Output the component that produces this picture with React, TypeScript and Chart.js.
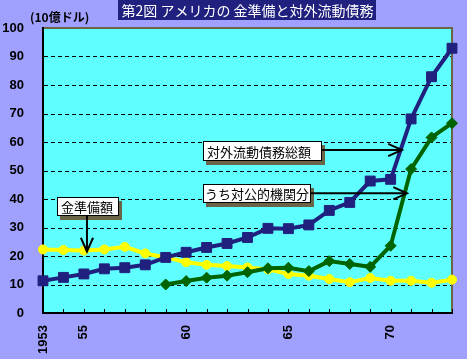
import React, { useEffect, useRef } from 'react';
import { Chart, registerables } from 'chart.js';

Chart.register(...registerables);

// ---- data ----
const years = ['1953', '1954', '1955', '1956', '1957', '1958', '1959', '1960', '1961', '1962', '1963', '1964', '1965', '1966', '1967', '1968', '1969', '1970', '1971', '1972', '1973'];
const tickLabels = ['1953', '', '55', '', '', '', '', '60', '', '', '', '', '65', '', '', '', '', '70', '', '', ''];
const liabilitiesTotal = [11.3, 12.5, 13.7, 15.5, 15.9, 16.9, 19.5, 21.3, 23.0, 24.4, 26.5, 29.7, 29.6, 30.9, 36.0, 38.8, 46.3, 46.9, 68.1, 82.9, 92.9];
const officialHoldings = [null, null, null, null, null, null, 10.0, 11.2, 12.4, 13.1, 14.3, 15.7, 15.9, 14.7, 18.2, 17.2, 16.2, 23.6, 50.5, 61.6, 66.6];
const goldReserves = [22.3, 22.1, 21.9, 22.3, 23.2, 20.9, 19.5, 17.8, 16.9, 16.5, 16.0, 15.3, 13.7, 13.1, 11.9, 10.8, 12.3, 11.3, 11.3, 10.6, 11.7];
const yTicks = [0, 10, 20, 30, 40, 50, 60, 70, 80, 90, 100];

const titleText = '第2図 アメリカの 金準備と対外流動債務';
const unitText = '(10億ドル)';
const calloutTexts = ['金準備額', '対外流動債務総額', 'うち対公的機関分'];

// ---- callout placement (box in axis coords: category index, value; width in px) ----
const callouts = [
  { text: calloutTexts[0], box: [0.7, 40.7], w: 62, h: 19, pad: 4, tip: [2.15, 21.6], from: 'bottom' },
  { text: calloutTexts[1], box: [7.84, 60.4], w: 119, h: 20, pad: 4, tip: [17.55, 57.2], from: 'right' },
  { text: calloutTexts[2], box: [7.84, 45.3], w: 108, h: 19, pad: 2, tip: [17.8, 42.0], from: 'right' },
];

// ---- styles ----
const PAGE_BG = '#a0a0ff';
const PLOT_BG = '#60ffff';
const FRAME = '#6b6548';
const NAVY = '#20207f';
const GREEN = '#006400';
const YELLOW = '#ffff00';
const CJK = '"Noto Sans CJK JP", sans-serif';

function drawArrow(ctx: CanvasRenderingContext2D, x1: number, y1: number, x2: number, y2: number) {
  ctx.beginPath();
  ctx.moveTo(x1, y1);
  ctx.lineTo(x2, y2);
  ctx.stroke();
  const ang = Math.atan2(y2 - y1, x2 - x1);
  const len = 15;
  const spread = (24 * Math.PI) / 180;
  ctx.beginPath();
  ctx.moveTo(x2 - len * Math.cos(ang - spread), y2 - len * Math.sin(ang - spread));
  ctx.lineTo(x2, y2);
  ctx.lineTo(x2 - len * Math.cos(ang + spread), y2 - len * Math.sin(ang + spread));
  ctx.stroke();
}

const decor = {
  id: 'decor',
  beforeDraw(chart: any) {
    const { ctx, chartArea: a, width, height } = chart;
    ctx.save();
    ctx.fillStyle = PAGE_BG;
    ctx.fillRect(0, 0, width, height);
    ctx.fillStyle = PLOT_BG;
    ctx.fillRect(a.left, a.top, a.right - a.left, a.bottom - a.top);
    ctx.strokeStyle = FRAME;
    ctx.lineWidth = 2;
    ctx.beginPath();
    ctx.moveTo(a.left, a.top);
    ctx.lineTo(a.right, a.top);
    ctx.lineTo(a.right, a.bottom);
    ctx.stroke();
    ctx.restore();
  },
  beforeDatasetsDraw(chart: any) {
    const { ctx, chartArea: a } = chart;
    const xs = chart.scales.x;
    const ys = chart.scales.y;
    ctx.save();
    // dashed horizontal grid
    ctx.strokeStyle = '#000';
    ctx.lineWidth = 1;
    ctx.setLineDash([4, 3]);
    ctx.beginPath();
    yTicks.forEach((v) => {
      if (v === 0 || v === 100) return;
      const py = Math.round(ys.getPixelForValue(v)) + 0.5;
      ctx.moveTo(a.left + 1, py);
      ctx.lineTo(a.right - 1, py);
    });
    ctx.stroke();
    ctx.setLineDash([]);
    // axes
    ctx.lineWidth = 2;
    ctx.beginPath();
    ctx.moveTo(a.left, a.top - 1);
    ctx.lineTo(a.left, a.bottom);
    ctx.lineTo(a.right + 1, a.bottom);
    ctx.stroke();
    // inward ticks
    ctx.lineWidth = 1;
    ctx.beginPath();
    years.forEach((_, i) => {
      const px = Math.round(xs.getPixelForValue(i)) + 0.5;
      ctx.moveTo(px, a.bottom);
      ctx.lineTo(px, a.bottom - 4);
    });
    ctx.stroke();
    ctx.restore();
  },
  afterDatasetsDraw(chart: any) {
    const { ctx } = chart;
    const xs = chart.scales.x;
    const ys = chart.scales.y;
    ctx.save();
    ctx.font = '13px ' + CJK;
    callouts.forEach((c) => {
      const bx = Math.round(xs.getPixelForValue(c.box[0]));
      const by = Math.round(ys.getPixelForValue(c.box[1]));
      const w = c.w;
      const h = c.h;
      ctx.fillStyle = FRAME;
      ctx.fillRect(bx + 3, by + 4, w, h);
      ctx.fillStyle = '#ffffff';
      ctx.fillRect(bx, by, w, h);
      ctx.strokeStyle = '#000';
      ctx.lineWidth = 1;
      ctx.strokeRect(bx + 0.5, by + 0.5, w - 1, h - 1);
      ctx.fillStyle = '#000';
      ctx.textBaseline = 'middle';
      ctx.textAlign = 'left';
      ctx.fillText(c.text, bx + c.pad, by + h / 2 + 1);
      const tx = xs.getPixelForValue(c.tip[0]);
      const ty = ys.getPixelForValue(c.tip[1]);
      ctx.lineWidth = 2;
      ctx.strokeStyle = '#000';
      if (c.from === 'right') {
        drawArrow(ctx, bx + w, ty, tx, ty);
      } else {
        drawArrow(ctx, tx, by + h, tx, ty);
      }
    });
    ctx.restore();
  },
  afterDraw(chart: any) {
    const { ctx, chartArea: a } = chart;
    ctx.save();
    // title
    ctx.font = '14px ' + CJK;
    const tw = ctx.measureText(titleText).width;
    const cx = (a.left + a.right) / 2;
    const bw = tw + 6;
    ctx.fillStyle = NAVY;
    ctx.fillRect(Math.round(cx - bw / 2), 0, Math.round(bw), 20);
    ctx.fillStyle = '#ffffff';
    ctx.textAlign = 'center';
    ctx.textBaseline = 'middle';
    ctx.fillText(titleText, cx, 10.5);
    // unit
    ctx.font = 'bold 12px ' + CJK;
    ctx.fillStyle = '#000';
    ctx.textAlign = 'left';
    ctx.fillText(unitText, 30, 17);
    ctx.restore();
  },
};

export default function App() {
  const ref = useRef<HTMLCanvasElement | null>(null);
  useEffect(() => {
    if (!ref.current) return;
    const tickFont = { family: '"Liberation Sans", Arial, sans-serif', size: 13, weight: 'bold' as const };
    const chart = new Chart(ref.current, {
      type: 'line',
      data: {
        labels: years,
        datasets: [
          {
            label: '対外流動債務総額',
            data: liabilitiesTotal,
            borderColor: NAVY,
            backgroundColor: NAVY,
            borderWidth: 4,
            pointStyle: 'rect',
            pointRadius: 7,
            pointBorderWidth: 1,
            tension: 0,
            order: 0,
          },
          {
            label: 'うち対公的機関分',
            data: officialHoldings,
            borderColor: GREEN,
            backgroundColor: GREEN,
            borderWidth: 4,
            pointStyle: 'rectRot',
            pointRadius: 5.5,
            pointBorderWidth: 1,
            tension: 0,
            order: 1,
          },
          {
            label: '金準備額',
            data: goldReserves,
            borderColor: YELLOW,
            backgroundColor: YELLOW,
            borderWidth: 4,
            pointStyle: 'circle',
            pointRadius: 4.5,
            pointBorderWidth: 1,
            tension: 0,
            order: 2,
          },
        ],
      },
      options: {
        responsive: false,
        animation: false,
        layout: { padding: { top: 28, right: 15, bottom: 0, left: 0 } },
        plugins: { legend: { display: false }, tooltip: { enabled: false }, title: { display: false } },
        scales: {
          x: {
            type: 'category',
            offset: false,
            grid: { display: false, drawTicks: false },
            border: { display: false },
            afterFit: (s: any) => {
              s.height = 46;
              s.paddingLeft = 0;
              s.paddingRight = 0;
            },
            ticks: {
              autoSkip: false,
              minRotation: 90,
              maxRotation: 90,
              padding: 12,
              color: '#000',
              font: tickFont,
              callback: (_v: any, i: number) => tickLabels[i],
            },
          },
          y: {
            min: 0,
            max: 100,
            afterFit: (s: any) => {
              s.width = 43;
              s.paddingTop = 0;
              s.paddingBottom = 0;
            },
            afterBuildTicks: (s: any) => {
              s.ticks = yTicks.map((v) => ({ value: v }));
            },
            grid: { display: false, drawTicks: false },
            border: { display: false },
            ticks: {
              padding: 19,
              color: '#000',
              font: tickFont,
            },
          },
        },
      },
      plugins: [decor],
    });
    return () => chart.destroy();
  }, []);
  return (
    <div style={{ position: 'fixed', left: 0, top: 0, width: 467, height: 359 }}>
      <canvas ref={ref} width={467} height={359} style={{ display: 'block' }} />
    </div>
  );
}
